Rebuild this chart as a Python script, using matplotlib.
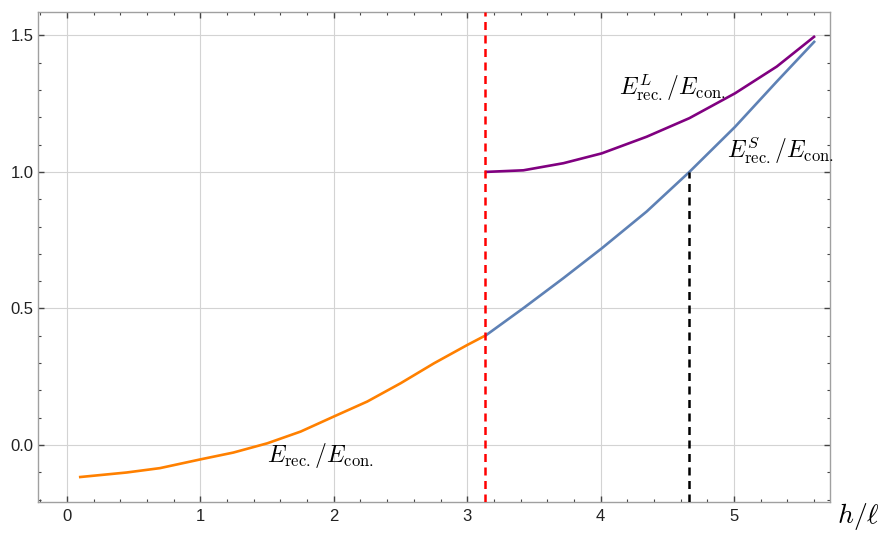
import matplotlib
matplotlib.use("Agg")
import matplotlib.pyplot as plt
from matplotlib.ticker import MultipleLocator, FormatStrFormatter

plt.rcParams["mathtext.fontset"] = "cm"
plt.rcParams["font.family"] = ["Liberation Sans", "DejaVu Sans"]

# Values
h_orange = [0.09, 0.447, 0.697, 1.0, 1.247, 1.502, 1.752, 2.0, 2.251,
            2.501, 2.751, 3.0, 3.133]
e_orange = [-0.118, -0.101, -0.085, -0.053, -0.028, 0.006, 0.049, 0.104,
            0.159, 0.226, 0.299, 0.366, 0.400]

h_short = [3.133, 3.421, 3.721, 4.008, 4.345, 4.665, 5.007, 5.32, 5.607]
e_short = [0.399, 0.501, 0.611, 0.720, 0.855, 1.0, 1.165, 1.331, 1.48]

h_long = [3.133, 3.421, 3.721, 4.008, 4.345, 4.665, 5.007, 5.32, 5.607]
e_long = [1.0, 1.006, 1.032, 1.068, 1.129, 1.197, 1.288, 1.386, 1.498]

h_crit = 3.133
h_equal = 4.665
e_equal = 1.0

x_range = (-0.217, 5.72)
y_range = (-0.209, 1.586)

fig = plt.figure(figsize=(8.85, 5.37), dpi=100)
ax = fig.add_axes([0.0429, 0.0652, 0.8951, 0.9125])

lw = 1.9
ax.plot(h_orange, e_orange, color="#FF8000", lw=lw, solid_capstyle="butt", zorder=3)
ax.plot(h_short, e_short, color="#5E81B5", lw=lw, solid_capstyle="butt", zorder=3)
ax.plot(h_long, e_long, color="#800080", lw=lw, solid_capstyle="butt", zorder=3)

ax.axvline(h_crit, color="#FF0000", lw=1.8, dashes=(3.2, 2.2), zorder=4)
ax.vlines(h_equal, y_range[0], e_equal, color="black", lw=1.8,
          linestyles=[(0, (3.2, 2.2))], zorder=4)

ax.set_xlim(*x_range)
ax.set_ylim(*y_range)

# Mathematica-like frame
ax.xaxis.set_major_locator(MultipleLocator(1))
ax.xaxis.set_minor_locator(MultipleLocator(0.2))
ax.yaxis.set_major_locator(MultipleLocator(0.5))
ax.yaxis.set_minor_locator(MultipleLocator(0.1))
ax.yaxis.set_major_formatter(FormatStrFormatter("%.1f"))
ax.tick_params(which="both", direction="in", top=True, right=True,
               color="#444444", labelsize=12, labelcolor="#222222")
ax.tick_params(which="major", length=4.5, width=1.0)
ax.tick_params(which="minor", length=2.5, width=0.8)
ax.tick_params(axis="x", pad=5)
ax.tick_params(axis="y", pad=3)
for s in ax.spines.values():
    s.set_color("#a0a0a0")
    s.set_linewidth(1.0)

ax.grid(True, which="major", color="#d3d3d3", lw=0.8, zorder=0)
ax.set_axisbelow(True)

ax.text(4.54, 1.31, r"$E^{L}_{\mathrm{rec.}}/E_{\mathrm{con.}}$",
        fontsize=17, ha="center", va="center")
ax.text(5.35, 1.08, r"$E^{S}_{\mathrm{rec.}}/E_{\mathrm{con.}}$",
        fontsize=17, ha="center", va="center")
ax.text(1.9, -0.04, r"$E_{\mathrm{rec.}}/E_{\mathrm{con.}}$",
        fontsize=17, ha="center", va="center")

fig.text(880 / 885, 1 - 517 / 537, r"$h/\ell$", fontsize=20,
         ha="right", va="center")

fig.savefig("out.png", dpi=100)
